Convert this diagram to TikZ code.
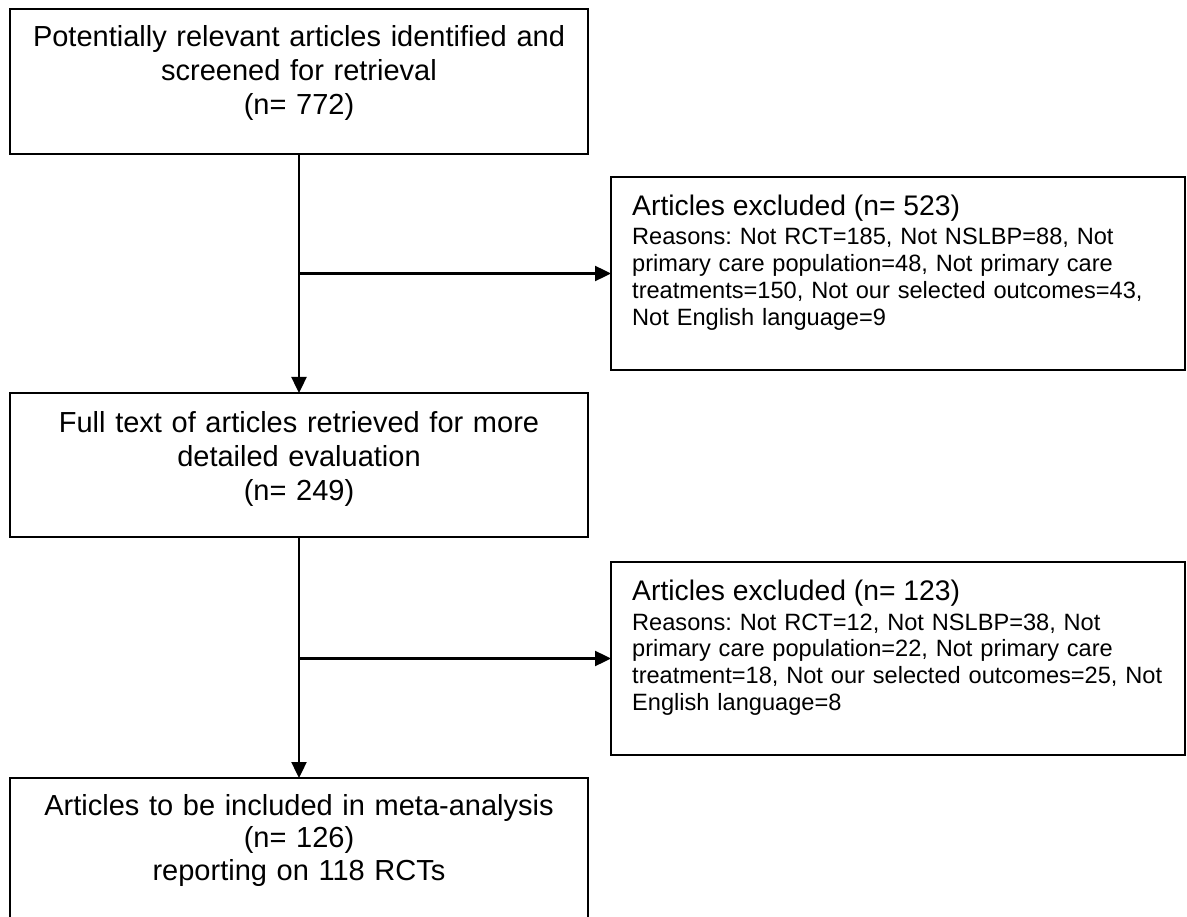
\documentclass[tikz,border=0pt]{standalone}
\usepackage{fontspec}
\setmainfont{Liberation Sans}
\usetikzlibrary{arrows.meta}
\begin{document}
\frenchspacing
\begin{tikzpicture}[x=1pt,y=-1pt,
  boxnode/.style={draw=black, line width=2pt, rectangle, inner sep=0pt, outer sep=0pt, anchor=north west},
  bigtxt/.style={font=\fontsize{29}{34}\selectfont, text width=575pt, align=center, anchor=base, inner sep=0pt},
  ttl/.style={font=\fontsize{28.3}{33}\selectfont, anchor=base west, inner sep=0pt},
  rsn/.style={font=\fontsize{23.6}{26.8}\selectfont, text width=575pt, align=left, anchor=base west, inner sep=0pt},
  conn/.style={line width=2.4pt},
  arr/.style={conn, -{Triangle[length=16pt,width=15pt]}}]
\useasboundingbox (0,0) rectangle (1187,917);
\clip (0,0) rectangle (1187,917);
\fill[white] (0,0) rectangle (1187,917);

% boxes
\node[boxnode, minimum width=578pt, minimum height=145pt] (b1) at (10,9) {};
\node[boxnode, minimum width=574pt, minimum height=193pt] (b2) at (611,177) {};
\node[boxnode, minimum width=578pt, minimum height=144pt] (b3) at (10,393) {};
\node[boxnode, minimum width=574pt, minimum height=193pt] (b4) at (611,562) {};
\node[boxnode, minimum width=578pt, minimum height=170pt] (b5) at (10,778) {};

% texts
\node[bigtxt] (t1) at (299,47) {Potentially relevant articles identified and\\ screened for retrieval\\ (n= 772)};
\node[bigtxt] (t3) at (299,432) {Full text of articles retrieved for more\\ detailed evaluation\\ (n= 249)};
\node[bigtxt, font=\fontsize{29}{32.5}\selectfont] (t5) at (299,815) {Articles to be included in meta-analysis\\ (n= 126)\\ reporting on 118 RCTs};

\node[ttl] (h2) at (632,216) {Articles excluded (n= 523)};
\node[rsn] (r2) at (632,245) {Reasons: Not RCT=185, Not NSLBP=88, Not\\ primary care population=48, Not primary care\\ treatments=150, Not our selected outcomes=43,\\ Not English language=9};
\node[ttl] (h4) at (632,600) {Articles excluded (n= 123)};
\node[rsn] (r4) at (632,630) {Reasons: Not RCT=12, Not NSLBP=38, Not\\ primary care population=22, Not primary care\\ treatment=18, Not our selected outcomes=25, Not\\ English language=8};

% connectors
\draw[arr] (b1.south) -- (b3.north);
\draw[arr] (b3.south) -- (b5.north);
\draw[arr] (b1.south |- b2.west) -- (b2.west);
\draw[arr] (b3.south |- b4.west) -- (b4.west);
\end{tikzpicture}
\end{document}
